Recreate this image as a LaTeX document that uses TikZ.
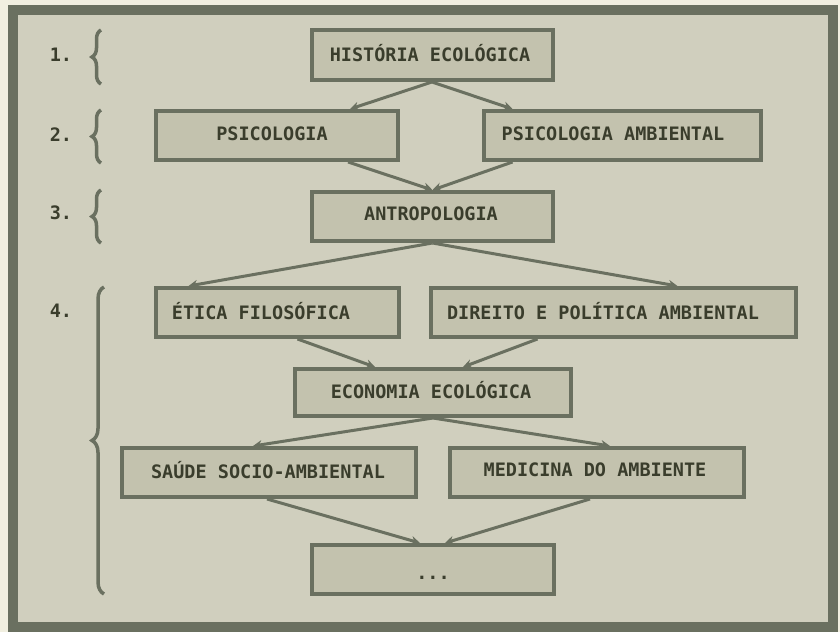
\documentclass[tikz,border=0pt]{standalone}
\usepackage{fontspec}
\setmonofont{DejaVu Sans Mono}
\usetikzlibrary{arrows.meta,decorations.pathreplacing,calc}
\definecolor{outside}{HTML}{F1EFE0}
\definecolor{bgc}{HTML}{D0CFBE}
\definecolor{boxc}{HTML}{C3C2AE}
\definecolor{framec}{HTML}{6A7060}
\definecolor{inkc}{HTML}{3A3D2C}
\tikzset{
  box/.style={draw=framec, fill=boxc, line width=4pt, rectangle, inner sep=0pt},
  txt/.style={text=inkc, font=\ttfamily\bfseries\fontsize{18.5}{20}\selectfont, inner sep=0pt},
  num/.style={text=inkc, font=\ttfamily\bfseries\fontsize{18.5}{20}\selectfont, inner sep=0pt},
  conn/.style={draw=framec, line width=3pt, -{Stealth[length=9pt,width=9pt]}},
  brc/.style={draw=framec, line width=3.5pt, decorate, decoration={brace, amplitude=9pt}}
}
\begin{document}
\begin{tikzpicture}[x=1pt,y=-1pt]
\useasboundingbox (0,0) rectangle (840,632);
\fill[outside] (0,0) rectangle (840,632);
\draw[framec, fill=bgc, line width=10pt] (13,10) rectangle (833,627);

% boxes
\node[box, minimum width=241pt, minimum height=50pt] (hist) at (432,55) {};
\node[box, minimum width=242pt, minimum height=49pt] (psi) at (277,135.5) {};
\node[box, minimum width=277pt, minimum height=49pt] (psiamb) at (622.5,135.5) {};
\node[box, minimum width=241pt, minimum height=49pt] (antro) at (432.5,216.5) {};
\node[box, minimum width=243pt, minimum height=49pt] (etica) at (277.5,312.5) {};
\node[box, minimum width=365pt, minimum height=49pt] (direito) at (613.5,312.5) {};
\node[box, minimum width=276pt, minimum height=47pt] (eco) at (433,392.5) {};
\node[box, minimum width=294pt, minimum height=49pt] (saude) at (269,472.5) {};
\node[box, minimum width=294pt, minimum height=49pt] (medic) at (597,472.5) {};
\node[box, minimum width=242pt, minimum height=49pt] (dots) at (433,569.5) {};

% texts
\node[txt] (thist) at (430,53) {HISTÓRIA ECOLÓGICA};
\node[txt] (tpsi) at (272,134) {PSICOLOGIA};
\node[txt] (tpsiamb) at (613,134) {PSICOLOGIA AMBIENTAL};
\node[txt] (tantro) at (431,214) {ANTROPOLOGIA};
\node[txt] (tetica) at (261,311) {ÉTICA FILOSÓFICA};
\node[txt] (tdireito) at (603,311) {DIREITO E POLÍTICA AMBIENTAL};
\node[txt] (teco) at (431,390) {ECONOMIA ECOLÓGICA};
\node[txt] (tsaude) at (268,470) {SAÚDE SOCIO-AMBIENTAL};
\node[txt] (tmedic) at (595,470) {MEDICINA DO AMBIENTE};
\node[txt] (tdots) at (433,578) {...};

% level numbers
\node[num] (n1) at (61,55) {1.};
\node[num] (n2) at (61,135) {2.};
\node[num] (n3) at (61,213) {3.};
\node[num] (n4) at (61,311) {4.};

% braces
\coordinate (b1a) at (101,84); \coordinate (b1b) at (101,30);
\coordinate (b2a) at (101,163); \coordinate (b2b) at (101,110);
\coordinate (b3a) at (101,243); \coordinate (b3b) at (101,190);
\coordinate (b4a) at (104,594); \coordinate (b4b) at (104,287);
\draw[brc] (b1a) -- (b1b);
\draw[brc] (b2a) -- (b2b);
\draw[brc] (b3a) -- (b3b);
\draw[brc, decoration={brace, amplitude=12pt}] (b4a) -- (b4b);

% connectors
\draw[conn] (hist.south) -- ([xshift=73pt]psi.north);
\draw[conn] (hist.south) -- ([xshift=-110pt]psiamb.north);
\draw[conn] ([xshift=71pt]psi.south) -- (antro.north);
\draw[conn] ([xshift=-110pt]psiamb.south) -- (antro.north);
\draw[conn] (antro.south) -- ([xshift=-89pt]etica.north);
\draw[conn] (antro.south) -- ([xshift=64pt]direito.north);
\draw[conn] ([xshift=20pt]etica.south) -- ([xshift=-58pt]eco.north);
\draw[conn] ([xshift=-76pt]direito.south) -- ([xshift=30pt]eco.north);
\draw[conn] (eco.south) -- ([xshift=-16pt]saude.north);
\draw[conn] (eco.south) -- ([xshift=13pt]medic.north);
\draw[conn] ([xshift=-2pt]saude.south) -- ([xshift=-13pt]dots.north);
\draw[conn] ([xshift=-7pt]medic.south) -- ([xshift=12pt]dots.north);
\end{tikzpicture}
\end{document}
